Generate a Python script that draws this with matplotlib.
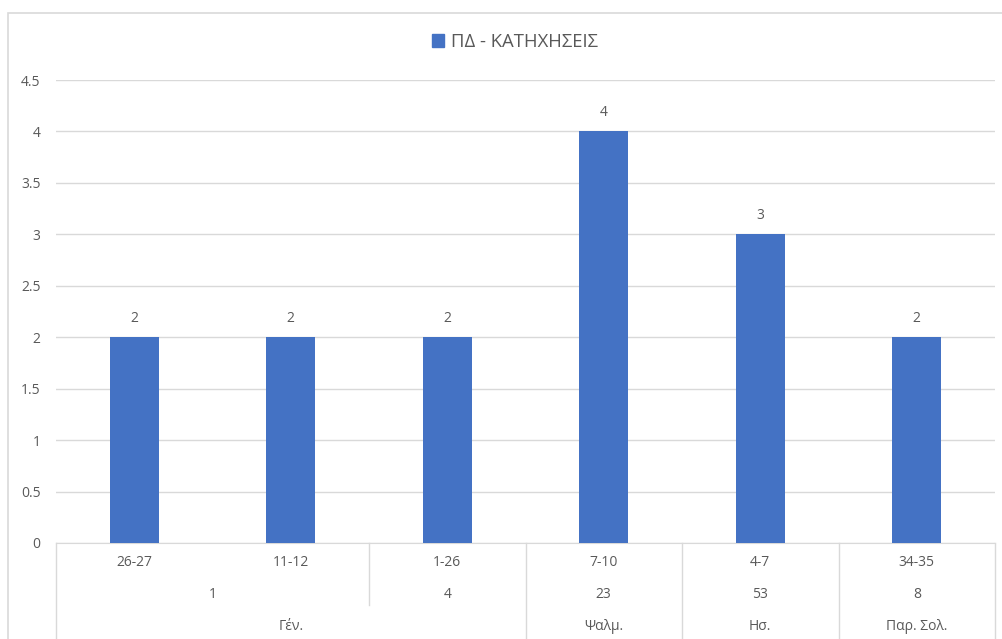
import numpy as np
import matplotlib.pyplot as plt
from matplotlib.transforms import blended_transform_factory
from matplotlib.patches import Rectangle, Patch

plt.rcParams['font.family'] = ['Open Sans', 'DejaVu Sans']

# dados
verses = ['26-27', '11-12', '1-26', '7-10', '4-7', '34-35']
chapters = ['1', '1', '4', '23', '53', '8']
books = ['Γέν.', 'Γέν.', 'Γέν.', 'Ψαλμ.', 'Ησ.', 'Παρ. Σολ.']
values = [2, 2, 2, 4, 3, 2]
series_name = 'ΠΔ - ΚΑΤΗΧΗΣΕΙΣ'

bar_color = '#4472C4'
txt = '#595959'
grid = '#D9D9D9'

W, H = 1002, 639
fig = plt.figure(figsize=(W / 100, H / 100), dpi=100)
ax = fig.add_axes([56 / W, 1 - 543 / H, 939 / W, 463 / H])

x = np.arange(len(values))
ax.bar(x, values, width=0.31, color=bar_color, zorder=3)
for xi, v in zip(x, values):
    ax.annotate(str(v), (xi, v), xytext=(0, 8), textcoords='offset points',
                ha='center', va='bottom', fontsize=10, color=txt)

ax.set_xlim(-0.5, len(values) - 0.5)
ax.set_ylim(0, 4.5)
ax.set_yticks(np.arange(0, 4.51, 0.5))
ax.set_yticklabels(['0', '0.5', '1', '1.5', '2', '2.5', '3', '3.5', '4', '4.5'])
ax.tick_params(axis='y', length=0, pad=11, labelsize=10, labelcolor=txt)
ax.set_xticks([])
ax.grid(axis='y', color=grid, linewidth=1, zorder=0)
for s in ['top', 'right', 'left']:
    ax.spines[s].set_visible(False)
ax.spines['bottom'].set_color(grid)

# eixo de categorias em três níveis
tr = blended_transform_factory(ax.transData, fig.transFigure)
rows_y = [1 - 562 / H, 1 - 595 / H, 1 - 627 / H]
y_axis = 1 - 543 / H


def groups(labels, parent=None):
    out = []
    start = 0
    for i in range(1, len(labels) + 1):
        end_here = i == len(labels) or labels[i] != labels[start] or \
            (parent is not None and parent[i] != parent[start])
        if end_here:
            out.append((start, i - 1, labels[start]))
            start = i
    return out


for xi, lab in zip(x, verses):
    ax.text(xi, rows_y[0], lab, transform=tr, ha='center', va='center',
            fontsize=10, color=txt, clip_on=False)
for a, b, lab in groups(chapters, books):
    ax.text((a + b) / 2, rows_y[1], lab, transform=tr, ha='center', va='center',
            fontsize=10, color=txt, clip_on=False)
for a, b, lab in groups(books):
    ax.text((a + b) / 2, rows_y[2], lab, transform=tr, ha='center', va='center',
            fontsize=10, color=txt, clip_on=False)

# linhas separadoras
book_edges = {b + 0.5 for a, b, _ in groups(books)} | {-0.5}
chap_edges = {b + 0.5 for a, b, _ in groups(chapters, books)}
for e in sorted(book_edges | chap_edges):
    y_end = 0.0 if e in book_edges else 1 - 605 / H
    ax.plot([e, e], [y_axis, y_end], transform=tr, color=grid, lw=1, clip_on=False)

# legenda
ax.legend(handles=[Patch(color=bar_color, label=series_name)], loc='center',
          bbox_to_anchor=(515 / W, 1 - 42 / H), bbox_transform=fig.transFigure,
          frameon=False, fontsize=13.3, handlelength=0.65, handleheight=0.65,
          handletextpad=0.4, labelcolor=txt)

# borda do gráfico
fig.patches.append(Rectangle((8 / W, -0.1), 1.2, 1.1 - 13 / H,
                             transform=fig.transFigure, fill=False,
                             edgecolor=grid, lw=1.2))

fig.savefig('out.png', dpi=100)
